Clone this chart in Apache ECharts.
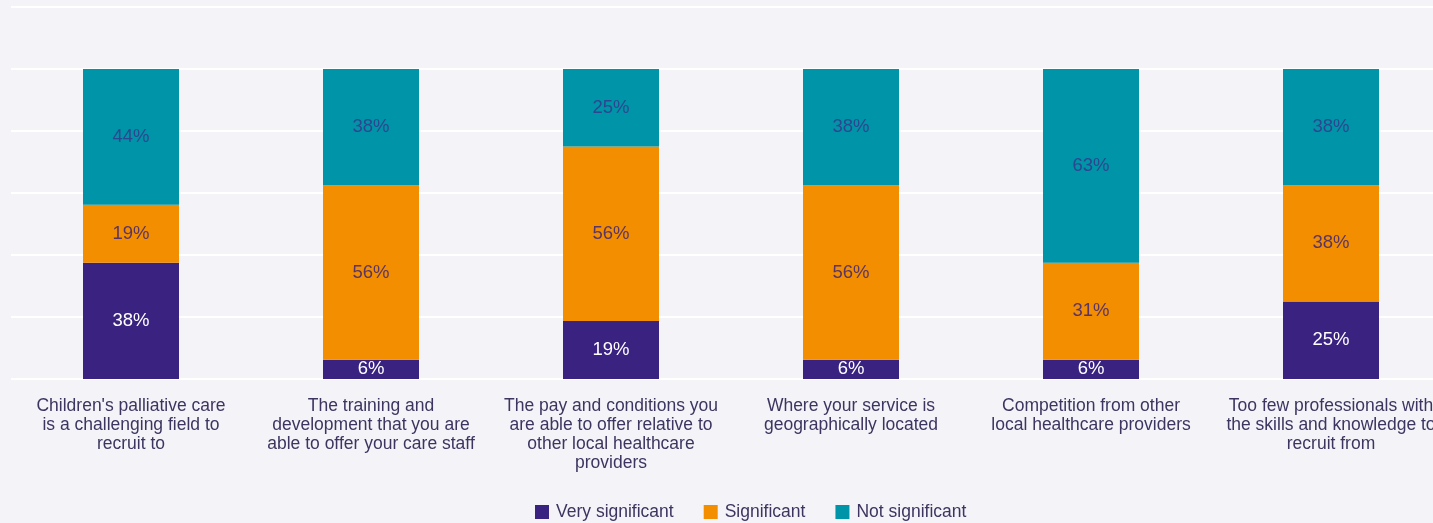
<!DOCTYPE html>
<html>
<head>
<meta charset="utf-8">
<script src="https://cdn.jsdelivr.net/npm/echarts@6/dist/echarts.min.js"></script>
<style>
html,body{margin:0;padding:0;background:#f4f3f8;overflow:hidden;width:1433px;height:523px;}
#c{width:1500px;height:523px;}
</style>
</head>
<body>
<div id="c"></div>
<script>
var categories = [
  "Children's palliative care\nis a challenging field to\nrecruit to",
  "The training and\ndevelopment that you are\nable to offer your care staff",
  "The pay and conditions you\nare able to offer relative to\nother local healthcare\nproviders",
  "Where your service is\ngeographically located",
  "Competition from other\nlocal healthcare providers",
  "Too few professionals with\nthe skills and knowledge to\nrecruit from"
];
var verySignificant = [37.5, 6.25, 18.75, 6.25, 6.25, 25];
var significant = [18.75, 56.25, 56.25, 56.25, 31.25, 37.5];
var notSignificant = [43.75, 37.5, 25, 37.5, 62.5, 37.5];
var seriesNames = ["Very significant", "Significant", "Not significant"];

var font = "'Liberation Sans', Arial, Helvetica, sans-serif";
function lbl(color) {
  return {
    show: true,
    position: 'inside',
    color: color,
    fontSize: 18.5,
    fontFamily: font,
    formatter: function (p) { return Math.round(p.value) + '%'; }
  };
}
var chart = echarts.init(document.getElementById('c'), null, {renderer: 'canvas'});
chart.setOption({
  backgroundColor: '#f4f3f8',
  animation: false,
  grid: {left: 11, top: 7, width: 1440, height: 372, containLabel: false},
  legend: {
    left: 535, top: 503, padding: 0,
    itemWidth: 14, itemHeight: 14, itemGap: 30,
    icon: 'rect',
    textStyle: {color: '#3d3560', fontSize: 17.5, fontFamily: font, padding: [0, 0, 0, 2]},
    data: seriesNames
  },
  xAxis: {
    type: 'category',
    data: categories,
    axisLine: {show: false},
    axisTick: {show: false},
    axisLabel: {
      interval: 0, margin: 18, color: '#3d3560', fontSize: 17.5,
      fontFamily: font, lineHeight: 19, align: 'center'
    }
  },
  yAxis: {
    type: 'value', min: 0, max: 120, interval: 20,
    axisLabel: {show: false},
    axisLine: {show: false},
    axisTick: {show: false},
    splitLine: {lineStyle: {color: '#ffffff', width: 2}}
  },
  series: [
    {name: seriesNames[0], type: 'bar', stack: 't', barWidth: 96, data: verySignificant,
     itemStyle: {color: '#3a2380'}, label: lbl('#ffffff')},
    {name: seriesNames[1], type: 'bar', stack: 't', barWidth: 96, data: significant,
     itemStyle: {color: '#f28e00'}, label: lbl('#5a3563')},
    {name: seriesNames[2], type: 'bar', stack: 't', barWidth: 96, data: notSignificant,
     itemStyle: {color: '#0094a8'}, label: lbl('#2b4790')}
  ]
});
</script>
</body>
</html>
